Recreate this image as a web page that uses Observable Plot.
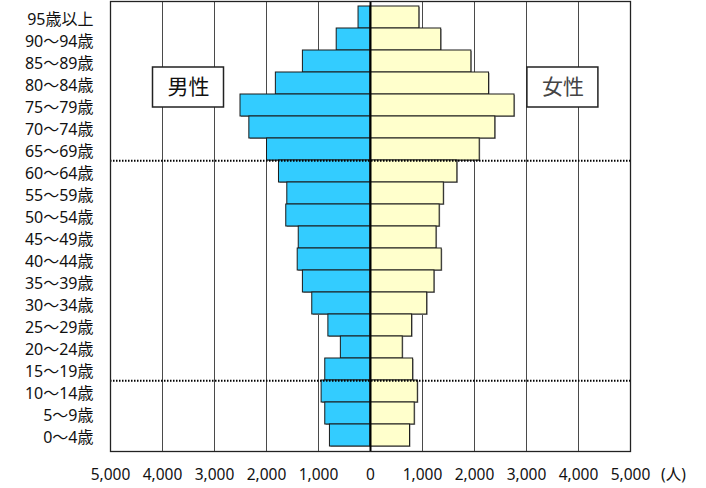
<!DOCTYPE html>
<html lang="ja">
<head>
<meta charset="utf-8">
<script src="https://cdn.jsdelivr.net/npm/d3@7"></script>
<script src="https://cdn.jsdelivr.net/npm/@observablehq/plot@0.6"></script>
<style>
  html, body { margin: 0; padding: 0; background: #fff; overflow: hidden; }
  #chart svg { display: block; }
</style>
</head>
<body>
<div id="chart"></div>
<script>
// Age groups, oldest at the top
const ageGroups = [
  "95歳以上", "90～94歳", "85～89歳", "80～84歳", "75～79歳",
  "70～74歳", "65～69歳", "60～64歳", "55～59歳", "50～54歳",
  "45～49歳", "40～44歳", "35～39歳", "30～34歳", "25～29歳",
  "20～24歳", "15～19歳", "10～14歳", "5～9歳", "0～4歳"
];

// Population by age group (persons)
const malePop = [
  230, 650, 1300, 1820, 2500,
  2330, 1990, 1760, 1600, 1620,
  1380, 1400, 1300, 1120, 810,
  570, 870, 940, 870, 780
];
const femalePop = [
  940, 1360, 1940, 2280, 2770,
  2400, 2100, 1670, 1410, 1330,
  1270, 1370, 1230, 1090, 800,
  620, 820, 910, 850, 760
];

// Axis ticks and labels
const xTicks = [-5000, -4000, -3000, -2000, -1000, 0, 1000, 2000, 3000, 4000, 5000];
const unitLabel = "(人)";
const sexLabels = ["男性", "女性"];

// Boundaries marked with dotted lines (the band just above each line)
const dividerAbove = ["65～69歳", "15～19歳"];

const rows = ageGroups.flatMap((age, i) => [
  {age, sex: "男性", value: -malePop[i]},
  {age, sex: "女性", value: femalePop[i]}
]);

const fontFamily = "'Noto Sans', 'Noto Sans CJK JP', sans-serif";
const bandHalf = (488 - 1 - 37) / ageGroups.length / 2;

// where the sex labels sit
const labelX = d => d === "男性" ? -3500 : 3700;
const labelRow = "80～84歳";
const labelDy = 4;

const chart = Plot.plot({
  width: 706,
  height: 488,
  marginLeft: 110,
  marginRight: 76,
  marginTop: 1,
  marginBottom: 37,
  style: {fontFamily, background: "#fff", color: "#111"},
  x: {domain: [-5000, 5000], label: null},
  y: {type: "band", domain: ageGroups, padding: 0, label: null},
  marks: [
    // vertical grid
    Plot.ruleX(xTicks, {stroke: "#4a4a4a", strokeWidth: 1}),
    // light shadow behind each bar
    Plot.barX(rows, {x: "value", y: "age", fill: "#9a9a9a", dx: 1, dy: 1}),
    // bars
    Plot.barX(rows, {
      x: "value", y: "age",
      fill: d => d.sex === "男性" ? "#33ccff" : "#ffffcc",
      stroke: "#1a1a1a", strokeWidth: 1
    }),
    // centre line
    Plot.ruleX([0], {stroke: "#000", strokeWidth: 2}),
    // dotted dividers
    Plot.ruleY(dividerAbove, {
      y: d => d, dy: bandHalf,
      stroke: "#000", strokeWidth: 2, strokeDasharray: "1.5,1.5"
    }),
    Plot.frame({stroke: "#222", strokeWidth: 1.3}),
    Plot.axisX(xTicks, {
      tickSize: 0, tickPadding: 17, fontSize: 15.5, fill: "#111",
      tickFormat: d => d3.format(",")(Math.abs(d))
    }),
    Plot.axisY({tickSize: 0, tickPadding: 17, fontSize: 16, fill: "#111", dy: 2}),
    Plot.text([unitLabel], {
      frameAnchor: "bottom-right", dx: 43, dy: 24,
      fontSize: 15.5, fill: "#111", textAnchor: "middle", lineAnchor: "middle"
    }),
    Plot.text(sexLabels, {
      x: labelX,
      y: () => labelRow,
      dy: labelDy,
      text: d => d,
      fontSize: 21,
      fill: d => d === "男性" ? "#111" : "#444",
      className: "sex-label",
      lineAnchor: "middle"
    })
  ]
});

document.getElementById("chart").append(chart);

// White boxes behind the sex labels, placed through the chart's own scales
const xs = chart.scale("x"), ys = chart.scale("y");
const labelGroup = chart.querySelector("g.sex-label");
const boxW = 71, boxH = 40;
sexLabels.forEach(label => {
  const cx = xs.apply(labelX(label));
  const cy = ys.apply(labelRow) + ys.bandwidth / 2 + labelDy;
  const rect = document.createElementNS("http://www.w3.org/2000/svg", "rect");
  rect.setAttribute("x", cx - boxW / 2);
  rect.setAttribute("y", cy - boxH / 2);
  rect.setAttribute("width", boxW);
  rect.setAttribute("height", boxH);
  rect.setAttribute("fill", "#fff");
  rect.setAttribute("stroke", "#222");
  rect.setAttribute("stroke-width", "1.5");
  labelGroup.parentNode.insertBefore(rect, labelGroup);
});
</script>
</body>
</html>
